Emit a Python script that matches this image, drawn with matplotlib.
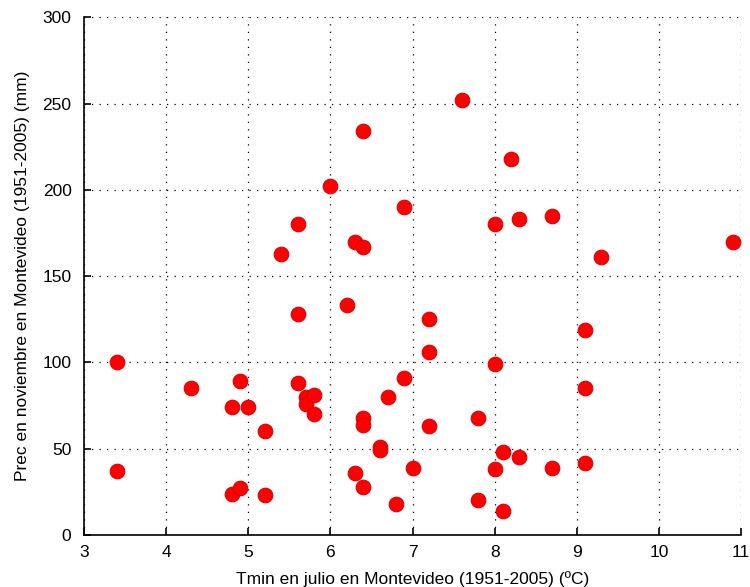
import matplotlib
matplotlib.use("Agg")
import matplotlib.pyplot as plt

tmin_julio = [6.4, 6.0, 6.9, 5.6, 5.4, 6.3, 6.4,
              7.6, 8.2, 8.0, 8.3, 8.7, 9.3, 10.9,
              5.6, 6.2, 3.4, 4.3, 4.9, 4.8, 5.0, 5.6, 5.7, 5.7, 5.8, 5.8, 5.2,
              6.9, 6.7, 6.4, 6.4, 6.6, 6.6, 3.4, 6.3, 6.4, 7.0, 4.8, 4.9, 5.2, 6.8,
              7.2, 9.1, 7.2, 8.0, 9.1, 7.8, 7.2, 8.1, 8.3, 8.0, 8.7, 9.1, 7.8, 8.1]
prec_nov = [234, 202, 190, 180, 163, 170, 167,
            252, 218, 180, 183, 185, 161, 170,
            128, 133, 100, 85, 89, 74, 74, 88, 80, 76, 81, 70, 60,
            91, 80, 68, 64, 51, 49, 37, 36, 28, 39, 24, 27, 23, 18,
            125, 119, 106, 99, 85, 68, 63, 48, 45, 38, 39, 42, 20, 14]

xticks = [3, 4, 5, 6, 7, 8, 9, 10, 11]
yticks = [0, 50, 100, 150, 200, 250, 300]

plt.rcParams['font.family'] = ['Liberation Sans', 'DejaVu Sans']

fig = plt.figure(figsize=(7.5, 5.87), dpi=100)
ax = fig.add_axes([0.112, 0.0886, 0.876, 0.882])

ax.plot(tmin_julio, prec_nov, 'o', color='#ff0000', markersize=10.5,
        markeredgecolor='#dd0000', markeredgewidth=0.8, zorder=3, clip_on=False)

ax.set_xlim(3, 11)
ax.set_ylim(0, 300)
ax.set_xticks(xticks)
ax.set_yticks(yticks)
ax.grid(True, linestyle=(0, (1, 5)), color='black', linewidth=0.9)
ax.set_axisbelow(True)

for s in ['top', 'right']:
    ax.spines[s].set_visible(False)
for s in ['left', 'bottom']:
    ax.spines[s].set_linewidth(1.2)

ax.tick_params(direction='in', length=5, width=1.2, labelsize=12.5)
ax.tick_params(axis='x', pad=7)
ax.tick_params(axis='y', pad=9)
ax.set_xlabel('Tmin en julio en Montevideo (1951-2005) (ºC)', fontsize=12.5, labelpad=8)
ax.set_ylabel('Prec en noviembre en Montevideo (1951-2005) (mm)', fontsize=12.5, labelpad=9)

fig.savefig('out.png', dpi=100)
